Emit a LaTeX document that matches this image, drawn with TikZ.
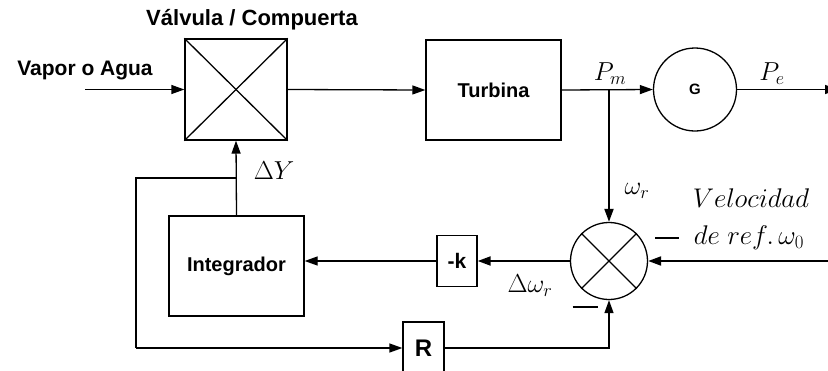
\RequirePackage{fix-cm}
\documentclass[tikz,border=0pt]{standalone}
\usepackage{fontspec}
\setmainfont{Liberation Sans}
\usetikzlibrary{arrows.meta}
\tikzset{
  blk/.style={draw, line width=1.3pt, rectangle, inner sep=0pt, font=\bfseries\fontsize{20}{24}\selectfont},
  ln/.style={line width=1.3pt},
  thk/.style={line width=2pt},
  arr/.style={-{Triangle[length=13pt,width=9pt]}},
  lbl/.style={inner sep=0pt, font=\bfseries\fontsize{21}{25}\selectfont},
  mlbl/.style={inner sep=0pt, font=\fontsize{26}{30}\selectfont},
  minusbar/.style={inner sep=0pt}
}
\begin{document}
\begin{tikzpicture}[x=1pt,y=-1pt]
\useasboundingbox (0,0) rectangle (828,370);
% blocks
\node[blk, minimum width=102pt, minimum height=101pt] (valve) at (236,89.5) {};
\draw[ln] (valve.north west) -- (valve.south east);
\draw[ln] (valve.south west) -- (valve.north east);
\node[lbl, font=\bfseries\fontsize{22}{26}\selectfont] (title) at (252,20) {Válvula / Compuerta};
\node[lbl] (vapor) at (85,70) {Vapor o Agua};
\coordinate (vin) at (85,89.5);
\node[blk, minimum width=135pt, minimum height=100pt] (turb) at (493.5,90) {Turbina};
\node[blk, circle, minimum size=83pt, font=\bfseries\fontsize{15}{18}\selectfont] (gen) at (695,89.5) {G};
\coordinate (peout) at (838,89.5);
\node[draw, line width=1.3pt, circle, minimum size=77pt, inner sep=0pt] (sum) at (609,261) {};
\draw[ln] (sum.north west) -- (sum.south east);
\draw[ln] (sum.south west) -- (sum.north east);
\coordinate (branch) at (609,89.5);
\coordinate (refin) at (828,261);
\node[blk, minimum width=40pt, minimum height=51pt, font=\bfseries\fontsize{21}{25}\selectfont] (kb) at (457,261) {-k};
\node[blk, minimum width=135pt, minimum height=100pt] (integ) at (236.5,266) {Integrador};
\coordinate (dyj) at (236.5,178);
\coordinate (fl1) at (136,178);
\coordinate (fl2) at (136,348);
\node[blk, minimum width=41pt, minimum height=52pt, font=\bfseries\fontsize{24}{28}\selectfont] (rb) at (423.5,348) {R};
\coordinate (rr) at (609,348);
% connectors
\draw[ln, arr] (vin) -- (valve.west);
\draw[ln, arr] (valve.east) -- (turb.west);
\draw[ln, arr] (turb.east) -- (gen.west);
\draw[ln, arr] (gen.east) -- (peout);
\draw[thk, arr] (branch) -- (sum.north);
\draw[thk, arr] (refin) -- (sum.east);
\draw[thk, arr] (sum.west) -- (kb.east);
\draw[ln, arr] (kb.west) -- (kb.west -| integ.east);
\draw[ln, arr] (integ.north) -- (valve.south);
\draw[ln] (dyj) -- (fl1) -- (fl2);
\draw[ln, arr] (fl2) -- (rb.west);
\draw[ln, arr] (rb.east) -- (rr) -- (sum.south);
% labels
\node[mlbl] (pm) at (610,74) {$P_m$};
\node[mlbl] (pe) at (772,74) {$P_e$};
\node[mlbl] (wr) at (637,191) {$\omega_r$};
\node[mlbl] (dwr) at (530,286) {$\Delta\omega_r$};
\node[mlbl] (dy) at (274,171) {$\Delta Y$};
\node[mlbl, font=\fontsize{27}{30}\selectfont] (vel) at (751,198) {$Velocidad$};
\node[mlbl, font=\fontsize{27}{30}\selectfont] (ref) at (749,238) {$de\ ref.\,\omega_0$};
\node[minusbar] (m1) at (667,238) {\rule{24pt}{2.4pt}};
\node[minusbar] (m2) at (585,307) {\rule{25pt}{2.4pt}};
\end{tikzpicture}
\end{document}
